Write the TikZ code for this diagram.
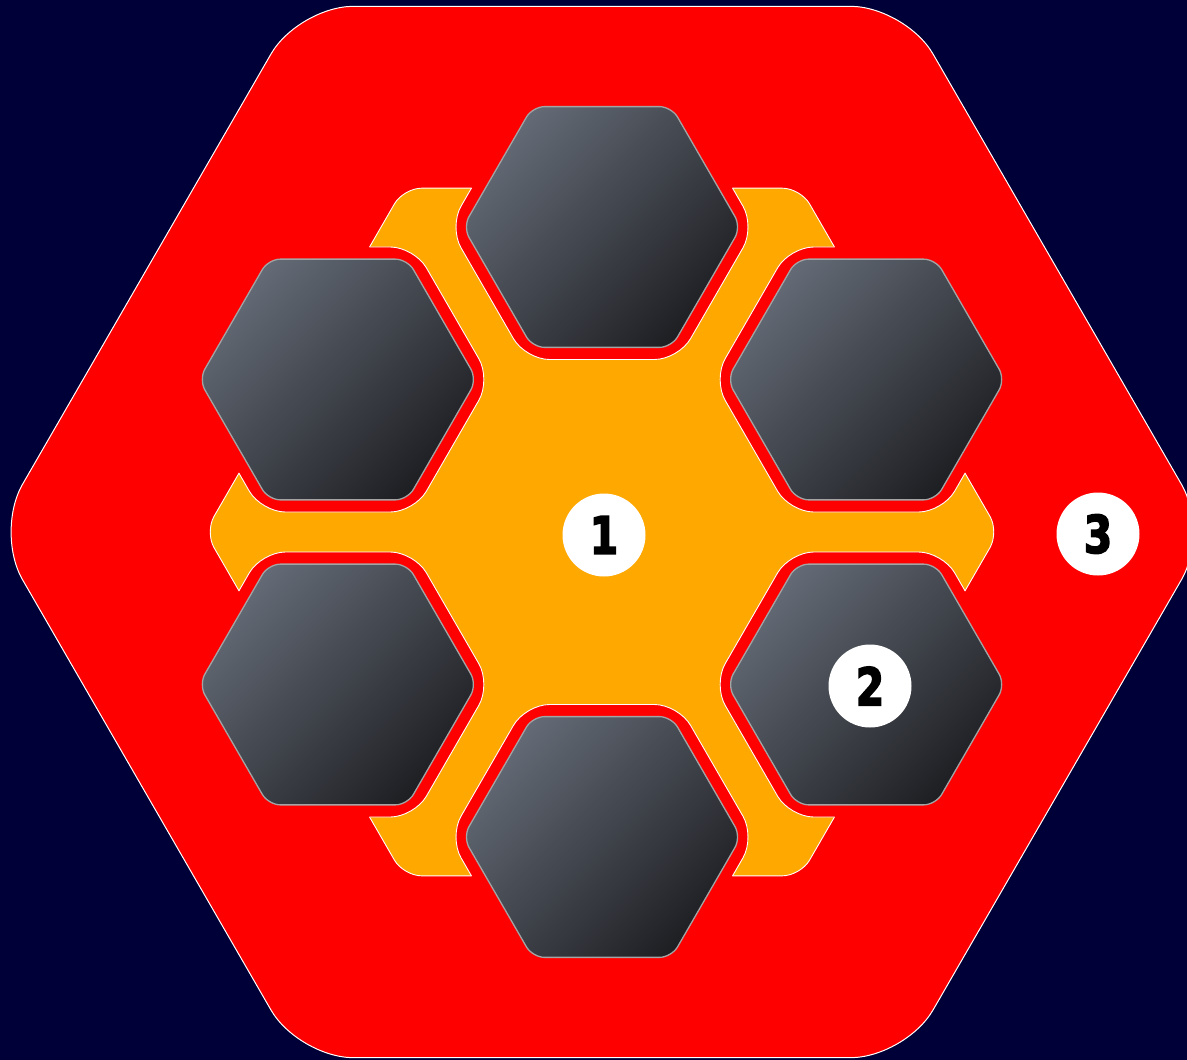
\documentclass[tikz,border=0pt]{standalone}
\usepackage{fontspec}
\newfontfamily\numfont{DejaVu Sans}[FakeStretch=0.78, FakeBold=3]
\definecolor{navy}{HTML}{000038}
\definecolor{hexred}{HTML}{FF0000}
\definecolor{hexorange}{HTML}{FFA800}
\definecolor{hexlight}{HTML}{636A75}
\definecolor{hexdark}{HTML}{1E1F23}
\definecolor{hexrim}{HTML}{A4A4A4}
% flat-top hexagon of circumradius #1 round the origin
\newcommand{\hexpath}[1]{(30:{0.866*#1}) -- (60:#1) -- (120:#1) -- (180:#1) -- (240:#1) -- (300:#1) -- (0:#1) -- cycle}
\tikzset{
  outerhex/.style={fill=hexred, draw=white, line width=1pt, rounded corners=55pt},
  corehex/.style={fill=hexorange, draw=white, line width=0.9pt, rounded corners=18pt},
  gaphex/.style={fill=hexred, rounded corners=24pt},
  gapline/.style={draw=white, line width=0.9pt, rounded corners=24pt},
  cellhex/.style={shading=axis, top color=hexlight, bottom color=hexdark, shading angle=45, draw=hexrim, line width=1.3pt, rounded corners=12pt},
  numdot/.style={circle, fill=white, minimum size=83pt, inner sep=0pt, font=\numfont\bfseries\fontsize{52}{52}\selectfont}
}
\begin{document}
\begin{tikzpicture}[x=1pt, y=-1pt]
	\fill[navy] (0,0) rectangle (1187,1060);
	\useasboundingbox (0,0) rectangle (1187,1060);
	\begin{scope}[shift={(602,532)}]
		\path[outerhex] \hexpath{607};
		\path[corehex] \hexpath{397};
		% red gaps round the cells
		\foreach \a in {30,90,...,330}
			\path[gaphex, shift={(\a:305)}] \hexpath{153};
		\begin{scope}
			\clip[rounded corners=18pt] \hexpath{397};
			\foreach \a in {30,90,...,330}
				\path[gapline, shift={(\a:305)}] \hexpath{153};
		\end{scope}
		% cells
		\foreach \a in {30,90,...,330}
			\path[cellhex, shift={(\a:305)}] \hexpath{139};
	\end{scope}
	\node[numdot] (one) at (604,535) {1};
	\node[numdot] (two) at (870,686) {2};
	\node[numdot] (three) at (1098,534) {3};
\end{tikzpicture}
\end{document}
